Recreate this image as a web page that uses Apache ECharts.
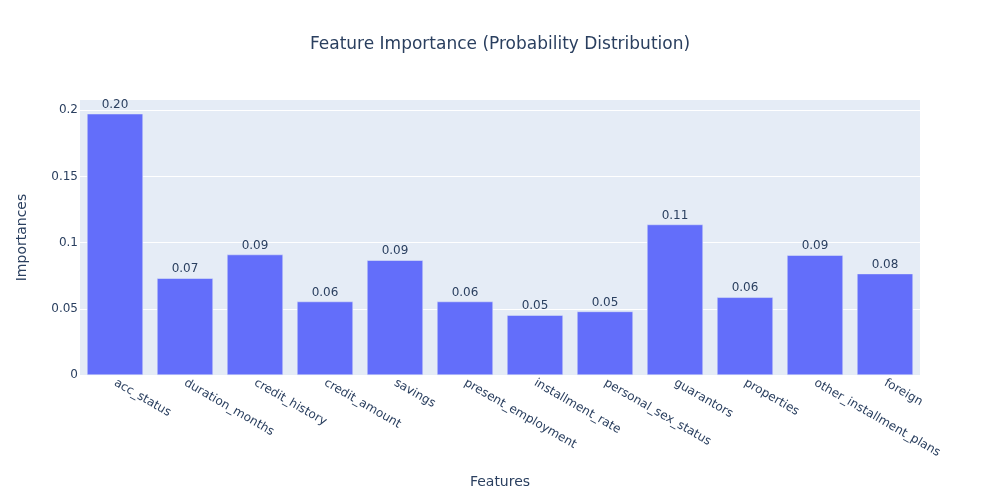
<!DOCTYPE html>
<html>
<head>
<meta charset="utf-8">
<title>Feature Importance</title>
<style>
    * { margin: 0; padding: 0; }
    body { background: #fff; }
    #main { width: 1000px; height: 500px; }
</style>
</head>
<body>
<div id="main"></div>
<script src="https://cdn.jsdelivr.net/npm/echarts@6/dist/echarts.min.js"></script>
<script>
    var features = ['acc_status', 'duration_months', 'credit_history', 'credit_amount', 'savings',
        'present_employment', 'installment_rate', 'personal_sex_status', 'guarantors', 'properties',
        'other_installment_plans', 'foreign'];
    var importances = [0.1974, 0.0731, 0.0910, 0.0555, 0.0867, 0.0555,
        0.0452, 0.0480, 0.1137, 0.0587, 0.0905, 0.0766];

    var font = '"DejaVu Sans", Verdana, sans-serif';
    var textColor = '#2a3f5f';

    var myChart = echarts.init(document.getElementById('main'));
    var option = {
        textStyle: { fontFamily: font },
        title: {
            text: 'Feature Importance (Probability Distribution)',
            left: 'center',
            top: 31,
            textStyle: { fontFamily: font, fontSize: 17, fontWeight: 'normal', color: textColor }
        },
        grid: {
            left: 80, right: 80, top: 100, bottom: 125,
            show: true, backgroundColor: '#E5ECF6', borderWidth: 0
        },
        xAxis: {
            type: 'category',
            data: features,
            name: 'Features',
            nameLocation: 'middle',
            nameGap: 100,
            nameTextStyle: { fontFamily: font, fontSize: 14, color: textColor },
            axisLine: { show: false },
            axisTick: { show: false },
            axisLabel: {
                rotate: -30, margin: 7, fontFamily: font, fontSize: 12, color: textColor,
                interval: 0
            }
        },
        yAxis: {
            type: 'value',
            min: 0,
            max: 0.2078,
            interval: 0.05,
            name: 'Importances',
            nameLocation: 'middle',
            nameGap: 51,
            nameTextStyle: { fontFamily: font, fontSize: 14, color: textColor },
            axisLine: { show: false },
            axisTick: { show: false },
            axisLabel: {
                margin: 2, fontFamily: font, fontSize: 12, color: textColor,
                showMaxLabel: false,
                formatter: function (v) { return String(+v.toFixed(2)); }
            },
            splitLine: { showMaxLine: false, lineStyle: { color: '#ffffff', width: 1 } }
        },
        series: [{
            type: 'bar',
            data: importances,
            barWidth: '80%',
            itemStyle: { color: '#636EFA', borderColor: '#E5ECF6', borderWidth: 0.5 },
            label: {
                show: true, position: 'top', distance: 3,
                fontFamily: font, fontSize: 12, color: textColor,
                formatter: function (p) { return p.value.toFixed(2); }
            }
        }]
    };
    myChart.setOption(option);
</script>
</body>
</html>
